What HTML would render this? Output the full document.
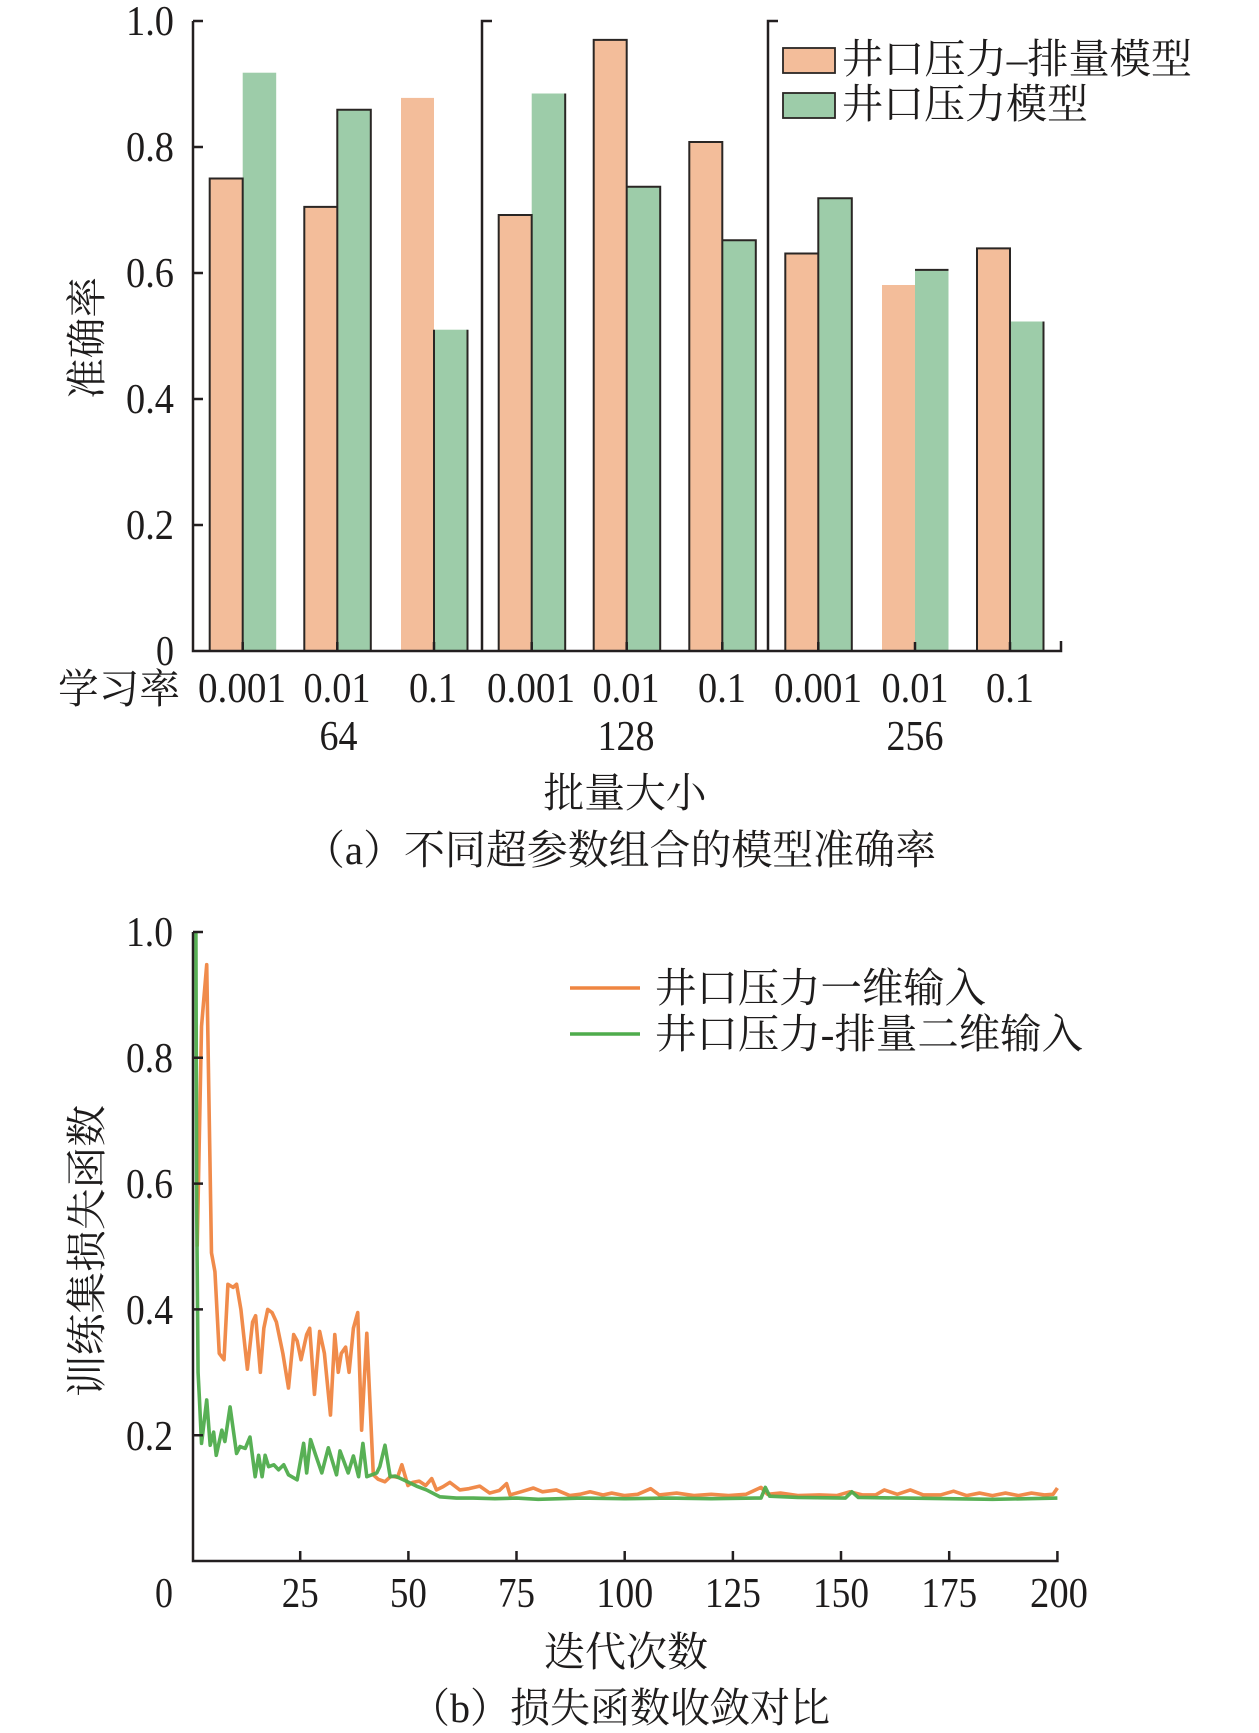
<!DOCTYPE html>
<html><head><meta charset="utf-8"><style>
html,body{margin:0;padding:0;background:#fff;}
svg{display:block;}
.n{font-family:"Liberation Serif",serif;font-size:42px;fill:#1e1c1c;}
.c{font-family:"Liberation Serif","Noto Serif CJK SC",serif;font-size:41px;fill:#1e1c1c;}
.ax{stroke:#231f20;stroke-width:2.5;fill:none;}
.ed{stroke:#2a2624;stroke-width:2;fill:none;}
</style></head><body>
<svg width="1259" height="1733" viewBox="0 0 1259 1733" xmlns="http://www.w3.org/2000/svg">
<rect x="0" y="0" width="1259" height="1733" fill="#fff"/>

<!-- ===== Chart (a) ===== -->
<g fill="#f3bd9a">
<rect x="209.7" y="178.5" width="33" height="472.5"/>
<rect x="304.3" y="206.9" width="33" height="444.1"/>
<rect x="401" y="97.9" width="33" height="553.1"/>
<rect x="498.7" y="215" width="33" height="436"/>
<rect x="593.7" y="39.9" width="33" height="611.1"/>
<rect x="689.3" y="142" width="33" height="509"/>
<rect x="785.3" y="253.5" width="33" height="397.5"/>
<rect x="882" y="285" width="33" height="366"/>
<rect x="977" y="248.4" width="33" height="402.6"/>
</g>
<g fill="#9dcca9">
<rect x="242.7" y="72.7" width="33.5" height="578.3"/>
<rect x="337.3" y="109.8" width="33.5" height="541.2"/>
<rect x="434" y="329.7" width="33.5" height="321.3"/>
<rect x="531.7" y="93.5" width="33.5" height="557.5"/>
<rect x="626.7" y="186.7" width="33.5" height="464.3"/>
<rect x="722.3" y="240.2" width="33.5" height="410.8"/>
<rect x="818.3" y="198.3" width="33.5" height="452.7"/>
<rect x="915" y="269.9" width="33.5" height="381.1"/>
<rect x="1010" y="321.5" width="33.5" height="329.5"/>
</g>
<!-- dark edges -->
<path class="ed" d="
M209.7 651 V178.5 H242.7 V651
M304.3 651 V206.9 H337.3
M337.3 651 V109.8 H370.8 V651
M434 651 V329.7 M467.5 651 V329.7
M498.7 651 V215 H531.7 V651
M565.2 651 V93.5
M593.7 651 V39.9 H626.7 V651
M626.7 186.7 H660.2 V651
M689.3 651 V142 H722.3 V651
M722.3 240.2 H755.8 V651
M785.3 651 V253.5 H818.3
M818.3 651 V198.3 H851.8 V651
M915 269.9 H948.5
M977 651 V248.4 H1010 V651
M1043.5 651 V321.5
"/>

<!-- axes -->
<path class="ax" d="M193 21 V651 H1061 V641"/>
<path class="ax" d="M193 21 H203 M193 147 H203 M193 273 H203 M193 399 H203 M193 525 H203"/>
<path class="ax" d="M482 651 V21 H492 M768 651 V21 H778"/>
<path class="ax" d="M242.7 651 V642 M337.3 651 V642 M434 651 V642 M531.7 651 V642 M626.7 651 V642 M722.3 651 V642 M818.3 651 V642 M915 651 V642 M1010 651 V642"/>

<!-- y tick labels -->
<g class="n" text-anchor="end" dominant-baseline="central">
<text x="174" y="22" textLength="48" lengthAdjust="spacingAndGlyphs">1.0</text>
<text x="174" y="148" textLength="48" lengthAdjust="spacingAndGlyphs">0.8</text>
<text x="174" y="274" textLength="48" lengthAdjust="spacingAndGlyphs">0.6</text>
<text x="174" y="400" textLength="48" lengthAdjust="spacingAndGlyphs">0.4</text>
<text x="174" y="526" textLength="48" lengthAdjust="spacingAndGlyphs">0.2</text>
<text x="174" y="652" textLength="18" lengthAdjust="spacingAndGlyphs">0</text>
</g>
<text class="c" transform="translate(87,338) rotate(-90)" text-anchor="middle" dominant-baseline="central" textLength="122" lengthAdjust="spacingAndGlyphs">准确率</text>

<!-- x labels -->
<text class="c" x="58" y="689" dominant-baseline="central" textLength="122" lengthAdjust="spacingAndGlyphs">学习率</text>
<g class="n" text-anchor="middle" dominant-baseline="central">
<text x="242" y="689" textLength="88" lengthAdjust="spacingAndGlyphs">0.001</text>
<text x="337" y="689" textLength="67" lengthAdjust="spacingAndGlyphs">0.01</text>
<text x="433" y="689" textLength="48" lengthAdjust="spacingAndGlyphs">0.1</text>
<text x="531" y="689" textLength="88" lengthAdjust="spacingAndGlyphs">0.001</text>
<text x="626" y="689" textLength="67" lengthAdjust="spacingAndGlyphs">0.01</text>
<text x="722" y="689" textLength="48" lengthAdjust="spacingAndGlyphs">0.1</text>
<text x="818" y="689" textLength="88" lengthAdjust="spacingAndGlyphs">0.001</text>
<text x="915" y="689" textLength="67" lengthAdjust="spacingAndGlyphs">0.01</text>
<text x="1010" y="689" textLength="48" lengthAdjust="spacingAndGlyphs">0.1</text>
<text x="338.5" y="737" textLength="38" lengthAdjust="spacingAndGlyphs">64</text>
<text x="626" y="737" textLength="57" lengthAdjust="spacingAndGlyphs">128</text>
<text x="915" y="737" textLength="57" lengthAdjust="spacingAndGlyphs">256</text>
</g>
<text class="c" x="625" y="793" text-anchor="middle" dominant-baseline="central" textLength="163" lengthAdjust="spacingAndGlyphs">批量大小</text>
<text class="c" x="620" y="850" text-anchor="middle" dominant-baseline="central" textLength="632" lengthAdjust="spacingAndGlyphs">（a）不同超参数组合的模型准确率</text>

<!-- legend (a) -->
<rect x="783" y="48" width="52" height="25" fill="#f3bd9a" stroke="#2a2624" stroke-width="1.8"/>
<rect x="783" y="93" width="52" height="25" fill="#9dcca9" stroke="#2a2624" stroke-width="1.8"/>
<text class="c" x="842" y="59" dominant-baseline="central" textLength="350" lengthAdjust="spacingAndGlyphs">井口压力–排量模型</text>
<text class="c" x="842" y="104" dominant-baseline="central" textLength="246" lengthAdjust="spacingAndGlyphs">井口压力模型</text>

<!-- ===== Chart (b) ===== -->
<g transform="translate(192,1561) scale(4.327,-629)">
<polyline vector-effect="non-scaling-stroke" fill="none" stroke="#ef8541" stroke-width="3.6" stroke-linejoin="round" stroke-opacity="0.95" points="
1.2,0.5 2.2,0.85 3.4,0.948 4.5,0.49 5.3,0.46 6.3,0.33 7.4,0.32 8.3,0.44 9.5,0.435 10.3,0.44 11.3,0.40 12.8,0.305 14,0.38 14.7,0.39 15.8,0.30 16.6,0.37 17.5,0.40 18.5,0.395 19.5,0.38 21,0.33 22.3,0.275 23.5,0.36 24.3,0.35 25.2,0.32 26.5,0.36 27.2,0.37 28.3,0.265 29.5,0.365 30.6,0.33 32,0.232 33,0.36 33.8,0.30 34.5,0.33 35.5,0.34 36.3,0.30 37.3,0.37 38.3,0.395 39.2,0.208 40.4,0.362 41.9,0.137 43,0.13 44.6,0.126 46,0.135 47.5,0.133 48.5,0.153 49.9,0.12 51,0.125 52.5,0.127 54,0.12 55.4,0.131 56.5,0.113 58,0.118 59.6,0.125 61.9,0.113 64,0.115 66.5,0.119 68.8,0.108 71,0.112 72.7,0.123 73.5,0.105 76,0.11 78.9,0.116 81,0.11 84.2,0.113 87.3,0.104 89.6,0.106 92,0.11 95,0.105 97,0.108 100,0.104 103,0.106 106,0.115 108,0.105 112,0.108 116,0.104 120,0.106 124,0.104 128,0.106 131.5,0.117 133,0.106 136,0.108 140,0.104 145,0.105 149,0.104 152,0.11 155,0.105 158,0.105 160,0.113 163,0.106 166,0.113 169,0.105 173,0.105 176,0.111 179,0.104 182,0.108 185,0.104 188,0.108 191,0.104 194,0.108 197,0.105 199,0.106 200,0.116"/>
<polyline vector-effect="non-scaling-stroke" fill="none" stroke="#4fac4c" stroke-width="3.6" stroke-linejoin="round" stroke-opacity="0.95" points="
0.9,1.0 1.1,0.55 1.4,0.3 1.7,0.26 2.2,0.187 3.4,0.256 4.2,0.184 5,0.205 5.6,0.168 6.9,0.208 7.6,0.19 8.8,0.245 10.3,0.171 11.1,0.182 12.3,0.179 13.4,0.197 14.6,0.134 15.4,0.168 16.2,0.134 16.9,0.168 17.7,0.15 18.9,0.153 20,0.145 21.2,0.153 22.3,0.137 24.3,0.129 25.8,0.187 26.5,0.14 27.4,0.193 28.5,0.17 30,0.14 31.5,0.18 33.4,0.137 34.2,0.175 36.1,0.14 37.3,0.167 38.5,0.134 39.5,0.187 40.4,0.134 42.7,0.14 43.4,0.15 44.6,0.184 45.8,0.134 47,0.135 48.9,0.129 51.9,0.119 54.2,0.113 57.3,0.102 61.1,0.1 65,0.1 70,0.099 75,0.1 80,0.098 90,0.1 100,0.099 110,0.1 120,0.099 130,0.1 131.5,0.1 132.5,0.117 133.5,0.103 140,0.101 151,0.1 152.5,0.11 154,0.101 165,0.1 175,0.099 185,0.098 200,0.1"/>
</g>

<!-- axes (b) -->
<path class="ax" d="M193 932 V1561 H1057.4 V1551"/>
<path class="ax" d="M193 932 H203 M193 1057.8 H203 M193 1183.6 H203 M193 1309.4 H203 M193 1435.2 H203"/>
<path class="ax" d="M300.2 1561 V1551 M408.4 1561 V1551 M516.5 1561 V1551 M624.7 1561 V1551 M732.9 1561 V1551 M841 1561 V1551 M949.2 1561 V1551"/>

<g class="n" text-anchor="end" dominant-baseline="central">
<text x="173" y="933" textLength="47" lengthAdjust="spacingAndGlyphs">1.0</text>
<text x="173" y="1059" textLength="47" lengthAdjust="spacingAndGlyphs">0.8</text>
<text x="173" y="1185" textLength="47" lengthAdjust="spacingAndGlyphs">0.6</text>
<text x="173" y="1311" textLength="47" lengthAdjust="spacingAndGlyphs">0.4</text>
<text x="173" y="1437" textLength="47" lengthAdjust="spacingAndGlyphs">0.2</text>
</g>
<g class="n" text-anchor="middle" dominant-baseline="central">
<text x="164" y="1594" textLength="18" lengthAdjust="spacingAndGlyphs">0</text>
<text x="300.2" y="1594" textLength="37" lengthAdjust="spacingAndGlyphs">25</text>
<text x="408.4" y="1594" textLength="37" lengthAdjust="spacingAndGlyphs">50</text>
<text x="516.5" y="1594" textLength="37" lengthAdjust="spacingAndGlyphs">75</text>
<text x="624.7" y="1594" textLength="57" lengthAdjust="spacingAndGlyphs">100</text>
<text x="732.9" y="1594" textLength="56" lengthAdjust="spacingAndGlyphs">125</text>
<text x="841" y="1594" textLength="56" lengthAdjust="spacingAndGlyphs">150</text>
<text x="949.2" y="1594" textLength="56" lengthAdjust="spacingAndGlyphs">175</text>
<text x="1059" y="1594" textLength="58" lengthAdjust="spacingAndGlyphs">200</text>
</g>
<text class="c" transform="translate(87,1251) rotate(-90)" text-anchor="middle" dominant-baseline="central" textLength="292" lengthAdjust="spacingAndGlyphs">训练集损失函数</text>
<text class="c" x="626" y="1652" text-anchor="middle" dominant-baseline="central" textLength="164" lengthAdjust="spacingAndGlyphs">迭代次数</text>
<text class="c" x="620" y="1708" text-anchor="middle" dominant-baseline="central" textLength="420" lengthAdjust="spacingAndGlyphs">（b）损失函数收敛对比</text>

<!-- legend (b) -->
<line x1="570" y1="988" x2="640" y2="988" stroke="#ef8541" stroke-width="3.4"/>
<line x1="570" y1="1034" x2="640" y2="1034" stroke="#4fac4c" stroke-width="3.4"/>
<text class="c" x="655" y="988" dominant-baseline="central" textLength="331" lengthAdjust="spacingAndGlyphs">井口压力一维输入</text>
<text class="c" x="655" y="1034" dominant-baseline="central" textLength="428" lengthAdjust="spacingAndGlyphs">井口压力-排量二维输入</text>
</svg>
</body></html>
